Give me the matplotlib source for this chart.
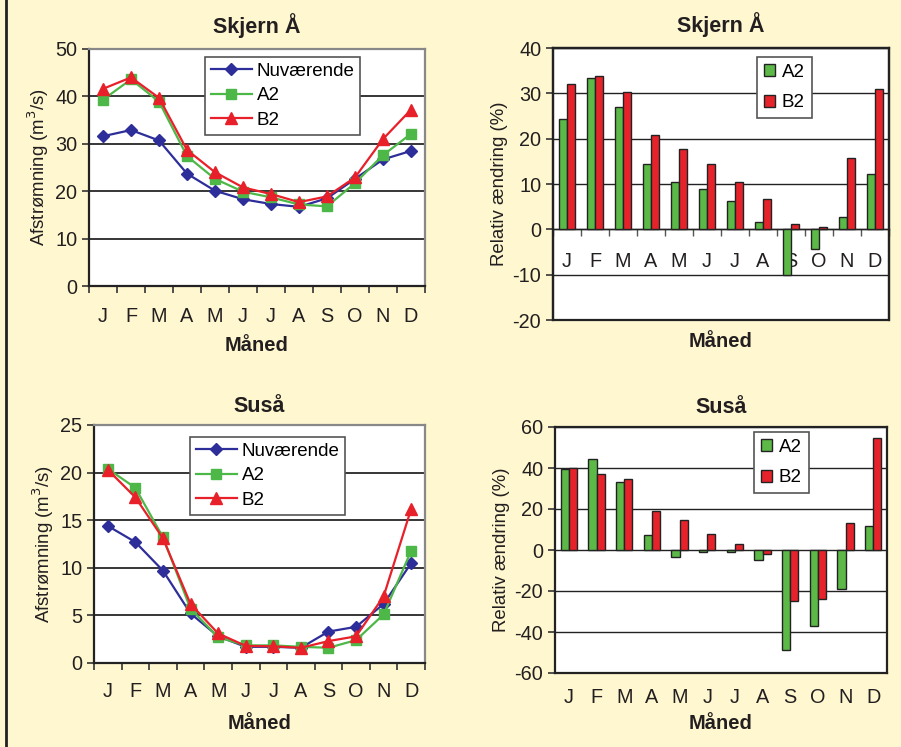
import matplotlib
matplotlib.use("Agg")
import matplotlib.pyplot as plt
import numpy as np
from matplotlib.patches import Rectangle
from matplotlib.lines import Line2D

plt.rcParams['font.family'] = ['Liberation Sans', 'DejaVu Sans']
plt.rcParams['axes.unicode_minus'] = False

months = ['J', 'F', 'M', 'A', 'M', 'J', 'J', 'A', 'S', 'O', 'N', 'D']

# Skjern Å discharge (m3/s)
skjern_nuv = [31.6, 32.9, 30.7, 23.7, 20.1, 18.3, 17.3, 16.7, 18.5, 22.6, 26.7, 28.5]
skjern_a2 = [39.3, 43.6, 38.9, 27.4, 22.6, 19.9, 18.7, 17.2, 16.8, 21.7, 27.6, 32.1]
skjern_b2 = [41.6, 44.0, 39.7, 28.7, 24.0, 20.8, 19.4, 17.7, 18.9, 22.9, 31.0, 37.2]

# Skjern Å relative change (%)
skjern_rel_a2 = [24.4, 33.3, 27.0, 14.4, 10.5, 8.8, 6.2, 1.6, -10.0, -4.3, 2.8, 12.1]
skjern_rel_b2 = [32.0, 33.9, 30.3, 20.7, 17.7, 14.4, 10.5, 6.7, 1.2, 0.5, 15.8, 30.9]

# Susaa discharge (m3/s)
susa_nuv = [14.4, 12.7, 9.7, 5.2, 2.8, 1.7, 1.7, 1.6, 3.3, 3.8, 6.2, 10.5]
susa_a2 = [20.4, 18.4, 13.2, 5.7, 2.7, 1.85, 1.85, 1.7, 1.6, 2.4, 5.1, 11.8]
susa_b2 = [20.3, 17.4, 13.1, 6.2, 3.1, 1.8, 1.75, 1.6, 2.3, 2.8, 7.0, 16.2]

# Susaa relative change (%)
susa_rel_a2 = [39.5, 44.6, 33.0, 7.5, -3.6, -0.8, -0.8, -5.0, -48.9, -37.2, -19.0, 11.7]
susa_rel_b2 = [40.2, 37.2, 34.5, 19.0, 14.6, 8.0, 2.9, -2.1, -24.7, -24.1, 13.2, 54.8]

BG = '#FEF7CF'
BLUE = '#2E2E9A'
GREEN = '#4DB848'
RED = '#E8202A'
BAR_GREEN = '#5CB847'
BAR_RED = '#E6222A'
TXT = '#231F20'

TITLE_FS = 15.5
XLAB_FS = 14.5
YLAB_FS = 13.4
TICK_FS = 14.3
LEG_FS = 13.5

fig = plt.figure(figsize=(9.01, 7.47), dpi=100)
fig.patch.set_facecolor(BG)
fig.add_artist(Line2D([6/901, 6/901], [0, 1], color='#222222', lw=2.0,
                      transform=fig.transFigure))

x = np.arange(len(months))


def line_chart(rect, nuv, a2, b2, ymax, ystep, title, legend_bbox, title_pad, xpad, xlabpad):
    ax = fig.add_axes(rect)
    ax.set_facecolor('white')
    ax.plot(x, nuv, color=BLUE, marker='D', ms=6, lw=1.6, label='Nuværende', zorder=3)
    ax.plot(x, a2, color=GREEN, marker='s', ms=7, lw=1.6, label='A2', zorder=4)
    ax.plot(x, b2, color=RED, marker='^', ms=8.5, lw=1.6, label='B2', zorder=5)
    ax.set_xlim(-0.5, 11.5)
    ax.set_ylim(0, ymax)
    ax.set_yticks(np.arange(0, ymax + 0.1, ystep))
    ax.yaxis.grid(True, color='black', lw=1.1)
    ax.set_axisbelow(True)
    ax.set_xticks(x)
    ax.set_xticklabels(months)
    ax.set_xticks(np.arange(-0.5, 12, 1), minor=True)
    ax.tick_params(axis='x', which='major', length=0, pad=xpad, labelsize=TICK_FS, colors=TXT)
    ax.tick_params(axis='x', which='minor', length=5, direction='out', width=1.2, color='#333333')
    ax.tick_params(axis='y', length=5, width=1.2, labelsize=TICK_FS, colors=TXT, color='#333333')
    for s in ['left', 'bottom']:
        ax.spines[s].set_color('#222222')
        ax.spines[s].set_linewidth(1.6)
    for s in ['top', 'right']:
        ax.spines[s].set_color('#888888')
        ax.spines[s].set_linewidth(1.6)
    ax.set_title(title, fontsize=TITLE_FS, fontweight='bold', color=TXT, pad=title_pad)
    ax.set_xlabel('Måned', fontsize=XLAB_FS, fontweight='bold', color=TXT, labelpad=xlabpad)
    ax.set_ylabel('Afstrømning (m$^3$/s)', fontsize=YLAB_FS, color=TXT, labelpad=3)
    leg = ax.legend(loc='upper left', bbox_to_anchor=legend_bbox, fontsize=LEG_FS,
                    frameon=True, fancybox=False, framealpha=1, edgecolor='#555555',
                    handlelength=2.2, handletextpad=0.25, borderpad=0.3, labelspacing=0.4,
                    borderaxespad=0)
    leg.get_frame().set_linewidth(1.2)
    return ax


def bar_chart(rect, a2, b2, ymin, ymax, ystep, title, labels_at_zero, legend_bbox, title_pad):
    ax = fig.add_axes(rect)
    ax.set_facecolor('white')
    w = 0.3
    ax.bar(x - w / 2, a2, width=w, color=BAR_GREEN, edgecolor='#222222', lw=1.0,
           label='A2', zorder=3)
    ax.bar(x + w / 2, b2, width=w, color=BAR_RED, edgecolor='#222222', lw=1.0,
           label='B2', zorder=3)
    ax.set_xlim(-0.5, 11.5)
    ax.set_ylim(ymin, ymax)
    ax.set_yticks(np.arange(ymin, ymax + 0.1, ystep))
    ax.yaxis.grid(True, color='#222222', lw=1.0)
    ax.set_axisbelow(True)
    ax.tick_params(axis='y', length=5, width=1.2, labelsize=TICK_FS, colors=TXT, color='#333333')
    ax.set_xticks(x)
    ax.set_xticklabels(months)
    for s in ax.spines.values():
        s.set_color('#222222')
        s.set_linewidth(1.6)
    ax.set_xlabel('Måned', fontsize=XLAB_FS, fontweight='bold', color=TXT)
    if labels_at_zero:
        ax.spines['bottom'].set_position(('data', 0))
        ax.spines['bottom'].set_linewidth(1.0)
        ax.set_xticks(np.arange(-0.5, 12, 1), minor=True)
        ax.tick_params(axis='x', which='minor', length=5, direction='out', width=1.0,
                       color='#555555')
        ax.tick_params(axis='x', which='major', length=0, pad=16, labelsize=TICK_FS, colors=TXT)
        ax.add_patch(Rectangle((0, 0), 1, 1, transform=ax.transAxes, fill=False,
                               edgecolor='#222222', lw=1.6, zorder=6, clip_on=False))
        ax.xaxis.set_label_coords(0.5, -0.045)
    else:
        ax.tick_params(axis='x', which='major', length=0, pad=11, labelsize=TICK_FS, colors=TXT)
        ax.xaxis.labelpad = 5
    ax.set_title(title, fontsize=TITLE_FS, fontweight='bold', color=TXT, pad=title_pad)
    ax.set_ylabel('Relativ ændring (%)', fontsize=YLAB_FS, color=TXT, labelpad=3)
    leg = ax.legend(loc='upper left', bbox_to_anchor=legend_bbox, fontsize=LEG_FS,
                    frameon=True, fancybox=False, framealpha=1, edgecolor='#555555',
                    handlelength=0.6, handleheight=0.6, handletextpad=0.35,
                    borderpad=0.37, labelspacing=0.72, borderaxespad=0)
    leg.get_frame().set_linewidth(1.2)
    return ax


line_chart([89 / 901, 1 - 286 / 747, 336 / 901, 237 / 747],
           skjern_nuv, skjern_a2, skjern_b2, 50, 10, 'Skjern Å', (0.345, 0.966),
           11.5, 15, 7)
bar_chart([553 / 901, 1 - 320 / 747, 336 / 901, 272 / 747],
          skjern_rel_a2, skjern_rel_b2, -20, 40, 10, 'Skjern Å', True, (0.607, 0.967), 11.5)
line_chart([94 / 901, 1 - 663 / 747, 331 / 901, 238 / 747],
           susa_nuv, susa_a2, susa_b2, 25, 5, 'Suså', (0.29, 0.95),
           9, 14, 9)
bar_chart([555 / 901, 1 - 673 / 747, 332 / 901, 246 / 747],
          susa_rel_a2, susa_rel_b2, -60, 60, 20, 'Suså', False, (0.60, 0.98), 10)

fig.savefig('out.png', dpi=100, facecolor=BG)
